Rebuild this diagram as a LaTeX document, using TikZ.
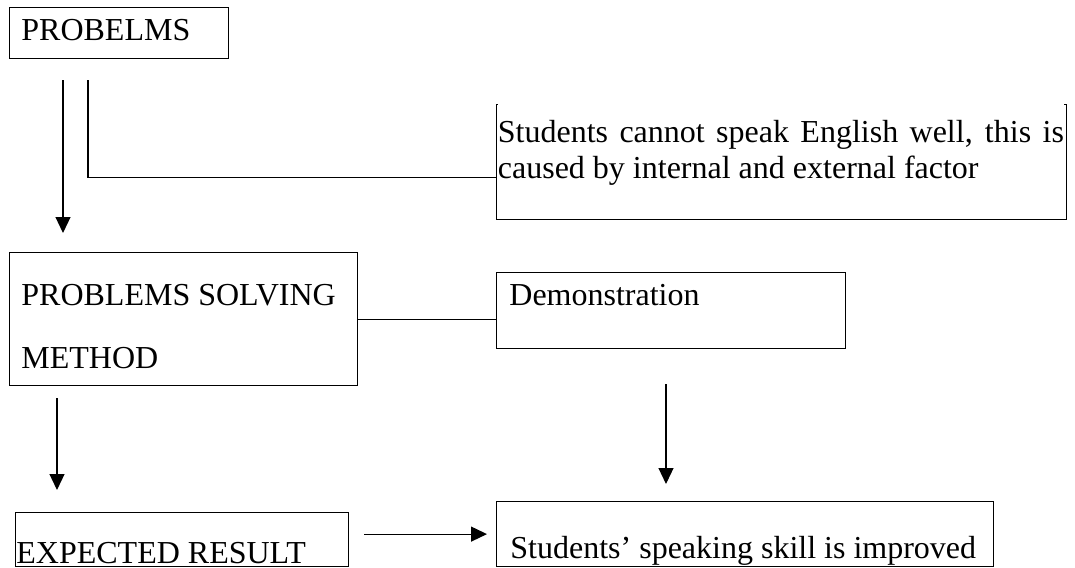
\documentclass[tikz,border=0pt]{standalone}
\usepackage{fontspec}
\setmainfont{Liberation Serif}
\usetikzlibrary{arrows.meta}

\begin{document}
\begin{tikzpicture}[x=0.5pt,y=-0.5pt,
	every node/.style={black,inner sep=0pt,font=\fontsize{16}{18}\selectfont},
	box/.style={draw,line width=0.6pt,anchor=north west},
	txt/.style={anchor=base west},
	arr/.style={-{Triangle[length=8pt,width=7.5pt]},line width=0.6pt}]
	\useasboundingbox (0,0) rectangle (1075,567);

	\node[box,minimum width=109.5pt,minimum height=25.5pt] (prob) at (9,7) {};
	\node[box,minimum width=285pt,minimum height=57.5pt] (cause) at (496,104) {};
	\node[box,minimum width=174pt,minimum height=66.5pt] (psm) at (9,252) {};
	\node[box,minimum width=174.5pt,minimum height=38pt] (demo) at (496,272) {};
	\node[box,minimum width=166.5pt,minimum height=27pt] (expect) at (15,512) {};
	\node[box,minimum width=248.5pt,minimum height=32.5pt] (result) at (496,501) {};

	\node[txt] (probtxt) at (21,41) {PROBELMS};
	% white text frame hides the top edge of the box
	\node[txt,fill=white,inner ysep=11pt,text width=283pt,align=justify] (causetxt) at (497.5,142) {Students cannot speak English well, this is\linebreak caused by internal and external factor};
	\node[txt,align=left] (psmtxt) at (21,368) {PROBLEMS SOLVING\\[13.5pt]METHOD};
	\node[txt] (demotxt) at (509,305) {Demonstration};
	\node[txt] (expecttxt) at (16,563) {EXPECTED RESULT};
	\node[txt] (resulttxt) at (510,558) {Students' speaking skill is improved};

	\draw[arr,shorten <=10.5pt,shorten >=9.5pt] ([xshift=27pt]prob.south west) -- ([xshift=27pt]prob.south west |- psm.north);
	\draw[line width=0.6pt,shorten <=10.5pt] ([xshift=39.5pt]prob.south west) |- ([yshift=21.5pt]cause.south west);
	\draw[line width=0.6pt] (psm.east) -- (psm.east -| demo.west);
	\draw[arr,shorten <=6pt,shorten >=11pt] ([xshift=24pt]psm.south west) -- ([xshift=24pt]psm.south west |- expect.north);
	\draw[arr,shorten <=17.5pt,shorten >=8.5pt] ([xshift=85pt]demo.south west) -- ([xshift=85pt]demo.south west |- result.north);
	\draw[arr,shorten <=7.5pt,shorten >=4.5pt] (result.west -| expect.east) -- (result.west);
\end{tikzpicture}
\end{document}
